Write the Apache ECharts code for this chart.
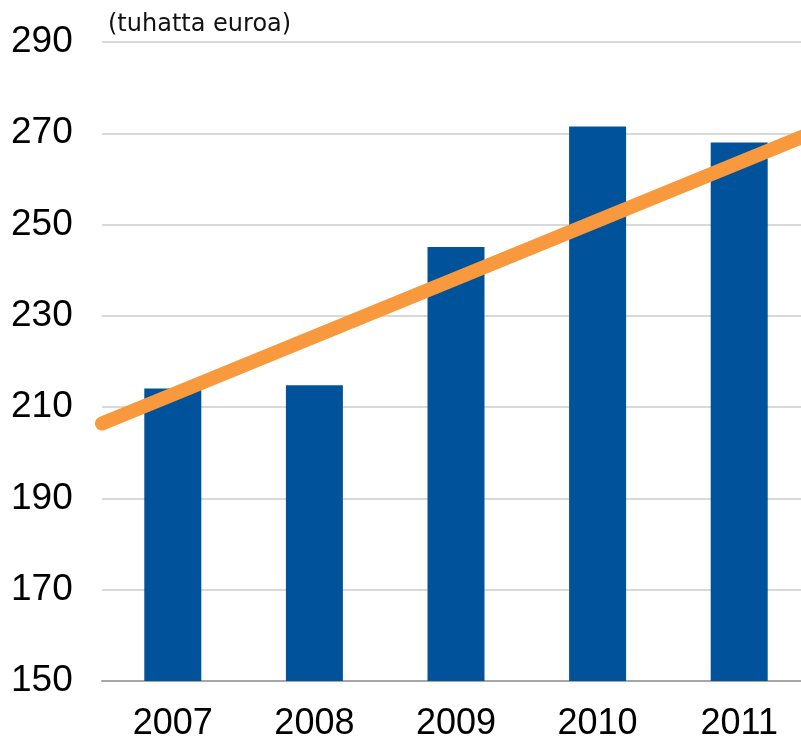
<!DOCTYPE html>
<html>
<head>
<meta charset="utf-8">
<style>
  html, body { margin: 0; padding: 0; background: #fff; }
  #chart { width: 801px; height: 744px; }
</style>
<script src="https://cdn.jsdelivr.net/npm/echarts@6/dist/echarts.min.js"></script>
</head>
<body>
<div id="chart"></div>
<script>
var years = ['2007', '2008', '2009', '2010', '2011'];
var values = [214.1, 214.8, 245.1, 271.5, 268.0];
// trend line end points: [position along categories (0..5), value]
var trend = [[0, 206.4], [5, 269.9]];
var yTicks = { min: 150, max: 290, step: 20 };

var myChart = echarts.init(document.getElementById('chart'));

var option = {
    animation: false,
    title: {
        text: '(tuhatta euroa)',
        left: 103,
        top: 8,
        textStyle: {
            fontFamily: 'DejaVu Sans',
            fontSize: 24,
            fontWeight: 'normal',
            color: '#111'
        }
    },
    grid: {
        left: 102,
        top: 42,
        width: 708,
        height: 639,
        outerBoundsMode: 'none'
    },
    xAxis: [{
        type: 'category',
        data: years,
        axisTick: { show: false },
        axisLine: { lineStyle: { color: '#a6a6a6', width: 2 } },
        axisLabel: {
            margin: 25,
            fontFamily: 'Liberation Sans',
            fontSize: 36,
            color: '#000'
        }
    }, {
        type: 'value',
        min: 0,
        max: 5,
        show: false
    }],
    yAxis: {
        type: 'value',
        min: yTicks.min,
        max: yTicks.max,
        interval: yTicks.step,
        axisLine: { show: false },
        axisTick: { show: false },
        splitLine: { lineStyle: { color: '#d9d9d9', width: 2 } },
        axisLabel: {
            align: 'left',
            margin: 91,
            fontFamily: 'Liberation Sans',
            fontSize: 37,
            color: '#000'
        }
    },
    series: [{
        type: 'bar',
        data: values,
        barWidth: 57,
        itemStyle: { color: '#00539b' }
    }, {
        type: 'line',
        xAxisIndex: 1,
        data: trend,
        symbol: 'none',
        clip: false,
        lineStyle: { color: '#f7993c', width: 14, cap: 'round' }
    }]
};

myChart.setOption(option);
</script>
</body>
</html>
